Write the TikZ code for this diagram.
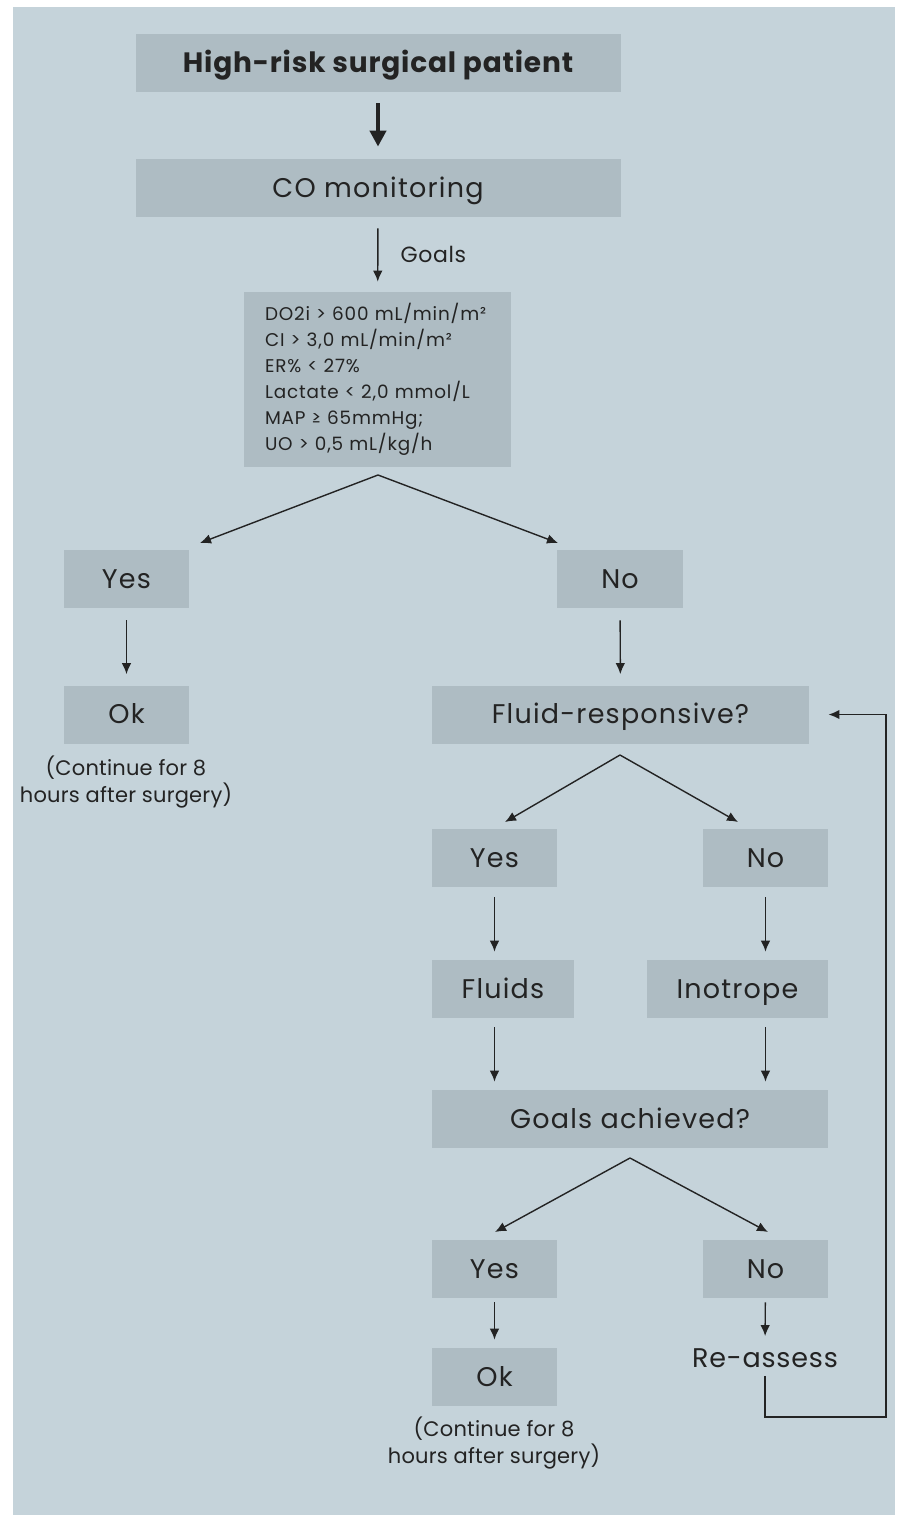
\documentclass[tikz,border=0pt]{standalone}
\usepackage{fontspec}
\setmainfont{Poppins}
\usetikzlibrary{arrows.meta}
\definecolor{sfondo}{HTML}{C5D3DA}
\definecolor{riquadro}{HTML}{AEBCC3}
\definecolor{testo}{HTML}{232323}

\begin{document}
\begin{tikzpicture}[x=0.5pt,y=-0.5pt,
	box/.style={fill=riquadro, text=testo, inner sep=0, minimum height=29pt, text height=10pt, text depth=1pt, font=\fontsize{13.5}{15}\selectfont\addfontfeature{LetterSpace=4.5}},
	nota/.style={text=testo, inner sep=0, align=center, font=\fontsize{10.5}{13.5}\selectfont\addfontfeature{LetterSpace=1}},
	freccia/.style={draw=testo, line width=0.7pt, -{Latex[length=5.5pt,width=4.8pt]}}]
	\useasboundingbox (0,0) rectangle (898,1517);
	\fill[sfondo] (13,7) rectangle (895,1515);
	% parte alta
	\node [box, minimum width=242.5pt, font=\fontsize{14}{16}\bfseries\addfontfeature{LetterSpace=3}] (paziente) at (378,63) {High-risk surgical patient};
	\node [box, minimum width=242.5pt] (monitor) at (378,188) {CO monitoring};
	\node [box, text width=112.5pt, inner xsep=10.5pt, minimum height=87.5pt, text height=, text depth=, align=left, font=\fontsize{9.2}{13}\selectfont\addfontfeature{LetterSpace=4.5}] (obiettivi) at (377.5,379.5)
		{DO2i > 600 mL/min/m²\\ CI > 3,0 mL/min/m²\\ ER\% < 27\%\\ Lactate < 2,0 mmol/L\\ MAP ≥ 65mmHg;\\ UO > 0,5 mL/kg/h};
	% ramo sinistro
	\node [box, minimum width=62.5pt] (si) at (126.5,579) {Yes};
	\node [box, minimum width=62.5pt] (ok) at (126.5,714.5) {Ok};
	\node [nota] (continua) at (126,782) {(Continue for 8\\ hours after surgery)};
	% ramo destro
	\node [box, minimum width=63pt] (no) at (620,579) {No};
	\node [box, minimum width=188.5pt] (fluidresp) at (620.5,714.5) {Fluid-responsive?};
	\node [box, minimum width=62.5pt] (si2) at (494.5,858) {Yes};
	\node [box, minimum width=62.5pt] (no2) at (765.5,858) {No};
	\node [box, minimum width=71pt] (fluidi) at (503,989) {Fluids};
	\node [box, minimum width=90.5pt] (inotropo) at (737.5,989) {Inotrope};
	\node [box, minimum width=198pt] (raggiunti) at (630,1119) {Goals achieved?};
	\node [box, minimum width=62.5pt] (si3) at (494.5,1269) {Yes};
	\node [box, minimum width=62.5pt] (no3) at (765.5,1269) {No};
	\node [box, minimum width=62.5pt] (ok2) at (494.5,1377) {Ok};
	\node [nota] (continua2) at (494,1443) {(Continue for 8\\ hours after surgery)};
	\node [text=testo, inner sep=0, font=\fontsize{13.5}{15}\selectfont\addfontfeature{LetterSpace=3}] (rivaluta) at (765,1358) {Re-assess};
	% punti delle diramazioni
	\coordinate (apice1) at (378,475);
	\coordinate (punta1s) at (200,543);
	\coordinate (punta1d) at (558,543);
	\coordinate (apice2) at (620,755);
	\coordinate (punta2s) at (505,822);
	\coordinate (punta2d) at (738,822);
	\coordinate (apice3) at (630,1158);
	\coordinate (punta3s) at (495,1232);
	\coordinate (punta3d) at (768,1232);
	% frecce
	\draw [draw=testo, line width=2pt, -{Triangle[length=8pt,width=8pt]}, shorten <=5.5pt, shorten >=6pt] (paziente) -- (monitor);
	\draw [freccia, shorten <=5.5pt, shorten >=5pt] (monitor) -- node [right=11pt, inner sep=0, text=testo, font=\fontsize{11}{12}\selectfont\addfontfeature{LetterSpace=3}] {Goals} (obiettivi);
	\draw [freccia] (apice1) -- (punta1s);
	\draw [freccia] (apice1) -- (punta1d);
	\draw [freccia, shorten <=6pt, shorten >=5.5pt] (si) -- (ok);
	\draw [freccia, shorten <=6pt, shorten >=5.5pt] (no) -- (fluidresp);
	\draw [freccia] (apice2) -- (punta2s);
	\draw [freccia] (apice2) -- (punta2d);
	\draw [freccia, shorten <=5pt, shorten >=4pt] (si2) -- (si2 |- fluidi.north);
	\draw [freccia, shorten <=5pt, shorten >=4pt] (no2) -- (no2 |- inotropo.north);
	\draw [freccia, shorten <=4.5pt, shorten >=4pt] (si2 |- fluidi.south) -- (si2 |- raggiunti.north);
	\draw [freccia, shorten <=4.5pt, shorten >=4pt] (no2 |- inotropo.south) -- (no2 |- raggiunti.north);
	\draw [freccia] (apice3) -- (punta3s);
	\draw [freccia] (apice3) -- (punta3d);
	\draw [freccia, shorten <=2pt, shorten >=4pt] (si3) -- (ok2);
	\draw [freccia, shorten <=2pt, shorten >=6pt] (no3) -- (rivaluta);
	% ritorno
	\draw [freccia, line width=0.9pt, shorten <=4pt, shorten >=9.5pt] (rivaluta.south) |- (886,1417) |- (fluidresp.east);
\end{tikzpicture}
\end{document}
